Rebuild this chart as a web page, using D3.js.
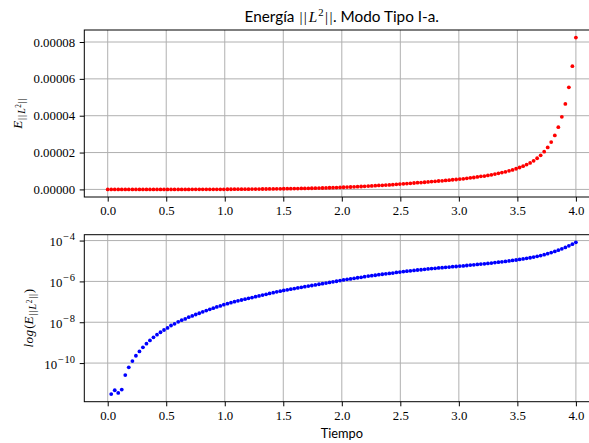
<!DOCTYPE html>
<html>
<head>
<meta charset="utf-8">
<script src="https://cdn.jsdelivr.net/npm/d3@7"></script>
<style>
  html, body { margin: 0; padding: 0; background: #ffffff; }
  svg { display: block; }
</style>
</head>
<body>
<svg id="chart" width="589" height="443"></svg>
<script>
// Time samples of the simulation
const tiempo = [
  0.000, 0.030, 0.060, 0.090, 0.120, 0.150, 0.180, 0.211, 0.241, 0.271,
  0.301, 0.331, 0.361, 0.391, 0.421, 0.451, 0.481, 0.511, 0.541, 0.571,
  0.602, 0.632, 0.662, 0.692, 0.722, 0.752, 0.782, 0.812, 0.842, 0.872,
  0.902, 0.932, 0.962, 0.992, 1.023, 1.053, 1.083, 1.113, 1.143, 1.173,
  1.203, 1.233, 1.263, 1.293, 1.323, 1.353, 1.383, 1.414, 1.444, 1.474,
  1.504, 1.534, 1.564, 1.594, 1.624, 1.654, 1.684, 1.714, 1.744, 1.774,
  1.805, 1.835, 1.865, 1.895, 1.925, 1.955, 1.985, 2.015, 2.045, 2.075,
  2.105, 2.135, 2.165, 2.195, 2.226, 2.256, 2.286, 2.316, 2.346, 2.376,
  2.406, 2.436, 2.466, 2.496, 2.526, 2.556, 2.586, 2.617, 2.647, 2.677,
  2.707, 2.737, 2.767, 2.797, 2.827, 2.857, 2.887, 2.917, 2.947, 2.977,
  3.008, 3.038, 3.068, 3.098, 3.128, 3.158, 3.188, 3.218, 3.248, 3.278,
  3.308, 3.338, 3.368, 3.398, 3.429, 3.459, 3.489, 3.519, 3.549, 3.579,
  3.609, 3.639, 3.669, 3.699, 3.729, 3.759, 3.789, 3.820, 3.850, 3.880,
  3.910, 3.940, 3.970, 4.000
];

// L2-norm energy at each time sample
const energia = [
  0,
  3.02e-12, 4.68e-12, 3.47e-12, 5.01e-12, 2.57e-11, 6.17e-11, 1.26e-10, 2.29e-10, 3.72e-10, 5.89e-10,
  8.91e-10, 1.29e-9, 1.82e-9, 2.45e-9, 3.24e-9, 4.17e-9, 5.25e-9, 6.92e-9, 8.32e-9, 1.05e-8,
  1.26e-8, 1.45e-8, 1.78e-8, 2.04e-8, 2.40e-8, 2.75e-8, 3.24e-8, 3.72e-8, 4.27e-8, 4.90e-8,
  5.62e-8, 6.31e-8, 7.24e-8, 8.13e-8, 9.12e-8, 1.02e-7, 1.12e-7, 1.23e-7, 1.35e-7, 1.48e-7,
  1.62e-7, 1.78e-7, 1.95e-7, 2.14e-7, 2.34e-7, 2.57e-7, 2.82e-7, 3.09e-7, 3.31e-7, 3.63e-7,
  3.89e-7, 4.17e-7, 4.47e-7, 4.79e-7, 5.13e-7, 5.50e-7, 5.89e-7, 6.31e-7, 6.76e-7, 7.24e-7,
  7.76e-7, 8.32e-7, 8.91e-7, 9.55e-7, 1.02e-6, 1.10e-6, 1.18e-6, 1.26e-6, 1.32e-6, 1.41e-6,
  1.51e-6, 1.58e-6, 1.70e-6, 1.82e-6, 1.91e-6, 2.00e-6, 2.14e-6, 2.24e-6, 2.34e-6, 2.45e-6,
  2.57e-6, 2.75e-6, 2.88e-6, 3.02e-6, 3.16e-6, 3.31e-6, 3.47e-6, 3.63e-6, 3.72e-6, 3.89e-6,
  4.07e-6, 4.27e-6, 4.37e-6, 4.57e-6, 4.68e-6, 4.90e-6, 5.01e-6, 5.25e-6, 5.37e-6, 5.62e-6,
  5.75e-6, 6.03e-6, 6.31e-6, 6.46e-6, 6.76e-6, 7.08e-6, 7.24e-6, 7.59e-6, 7.94e-6, 8.32e-6,
  8.71e-6, 9.12e-6, 9.55e-6, 1.01e-5, 1.06e-5, 1.12e-5, 1.19e-5, 1.26e-5, 1.35e-5, 1.44e-5,
  1.55e-5, 1.69e-5, 1.85e-5, 2.05e-5, 2.28e-5, 2.57e-5, 2.93e-5, 3.38e-5, 3.94e-5, 4.64e-5,
  5.54e-5, 6.69e-5, 8.24e-5
];

// Tick positions
const xTicks = [0, 0.5, 1.0, 1.5, 2.0, 2.5, 3.0, 3.5, 4.0];
const linTicks = [0, 0.00002, 0.00004, 0.00006, 0.00008];
const logExponents = [-4, -6, -8, -10];

// Texts
const titleSans1 = "Energía ";
const titleSans2 = ". Modo Tipo I-a.";
const xLabel = "Tiempo";

// Layout
const SERIF = "'Liberation Serif', 'DejaVu Serif', serif";
const SANS = "Lato, 'Open Sans', 'DejaVu Sans', sans-serif";
const GRID = "#b0b0b0";
const LW = 1.0;
const TICK_FS = 12.8;

const axLeft = 84.3, axRight = 599.3;
const topPanel = { y0: 30, y1: 197 };
const botPanel = { y0: 234.7, y1: 401.7 };

const svg = d3.select("#chart");
svg.append("rect").attr("width", 589).attr("height", 443).attr("fill", "#fff");

const points = tiempo.map((t, i) => ({ t, e: energia[i] }));

// x scale with 5% margins
const [tMin, tMax] = d3.extent(tiempo);
const tPad = 0.05 * (tMax - tMin);
const x = d3.scaleLinear().domain([tMin - tPad, tMax + tPad]).range([axLeft, axRight]);

// Linear y scale (top panel)
const [eMin, eMax] = d3.extent(energia);
const ePad = 0.05 * (eMax - eMin);
const yLin = d3.scaleLinear().domain([eMin - ePad, eMax + ePad]).range([topPanel.y1, topPanel.y0]);

// Log y scale (bottom panel), padded 5% in decades
const positive = points.filter(d => d.e > 0);
const [lMin, lMax] = d3.extent(positive, d => Math.log10(d.e));
const lPad = 0.05 * (lMax - lMin);
const yLog = d3.scaleLog()
  .domain([Math.pow(10, lMin - lPad), Math.pow(10, lMax + lPad)])
  .range([botPanel.y1, botPanel.y0]);

function styleAxis(g) {
  g.select(".domain").remove();
  g.selectAll(".tick line").attr("stroke", "#000").attr("stroke-width", LW);
  g.selectAll(".tick text")
    .attr("font-family", SERIF)
    .attr("font-size", TICK_FS)
    .attr("fill", "#000");
}

function drawPanel(panel, yScale, yTickValues, clipId) {
  const g = svg.append("g");

  // grid
  g.append("g").selectAll("line").data(xTicks).join("line")
    .attr("x1", d => x(d)).attr("x2", d => x(d))
    .attr("y1", panel.y0).attr("y2", panel.y1)
    .attr("stroke", GRID).attr("stroke-width", LW);
  g.append("g").selectAll("line").data(yTickValues).join("line")
    .attr("x1", axLeft).attr("x2", axRight)
    .attr("y1", d => yScale(d)).attr("y2", d => yScale(d))
    .attr("stroke", GRID).attr("stroke-width", LW);

  // x axis
  const xa = g.append("g")
    .attr("transform", `translate(0,${panel.y1})`)
    .call(d3.axisBottom(x).tickValues(xTicks).tickFormat(d3.format(".1f"))
      .tickSize(4.6).tickPadding(4.2));
  styleAxis(xa);

  // y axis
  const ya = g.append("g")
    .attr("transform", `translate(${axLeft},0)`)
    .call(d3.axisLeft(yScale).tickValues(yTickValues).tickSize(4.6).tickPadding(4.6));
  styleAxis(ya);

  // clip region of the plotting area
  svg.append("clipPath").attr("id", clipId).append("rect")
    .attr("x", axLeft).attr("y", panel.y0)
    .attr("width", axRight - axLeft).attr("height", panel.y1 - panel.y0);

  return { g, xa, ya };
}

// ---------- top panel: linear energy ----------
const topP = drawPanel(topPanel, yLin, linTicks, "clipTop");
topP.ya.selectAll(".tick text").text(d => d3.format(".5f")(d));

svg.append("g").attr("clip-path", "url(#clipTop)")
  .selectAll("circle").data(points).join("circle")
  .attr("cx", d => x(d.t)).attr("cy", d => yLin(d.e))
  .attr("r", 1.9).attr("fill", "#ff0000");

svg.append("rect")
  .attr("x", axLeft).attr("y", topPanel.y0)
  .attr("width", axRight - axLeft).attr("height", topPanel.y1 - topPanel.y0)
  .attr("fill", "none").attr("stroke", "#000").attr("stroke-width", LW);

// ---------- bottom panel: log energy ----------
const logTicks = logExponents.map(p => Math.pow(10, p));
const botP = drawPanel(botPanel, yLog, logTicks, "clipBot");
botP.ya.selectAll(".tick text").each(function (d) {
  const t = d3.select(this).text(null).attr("dy", null).attr("y", 5);
  t.append("tspan").text("10");
  t.append("tspan").attr("font-size", 10.5).attr("dx", 0.8).attr("dy", -5.8).text("\u2212");
  t.append("tspan").attr("font-size", 10.5).attr("dx", 0.8)
    .text(Math.abs(Math.round(Math.log10(d))));
});

svg.append("g").attr("clip-path", "url(#clipBot)")
  .selectAll("circle").data(positive).join("circle")
  .attr("cx", d => x(d.t)).attr("cy", d => yLog(d.e))
  .attr("r", 1.9).attr("fill", "#0000ff");

svg.append("rect")
  .attr("x", axLeft).attr("y", botPanel.y0)
  .attr("width", axRight - axLeft).attr("height", botPanel.y1 - botPanel.y0)
  .attr("fill", "none").attr("stroke", "#000").attr("stroke-width", LW);

// ---------- title ----------
const cx = (axLeft + axRight) / 2;
const title = svg.append("text")
  .attr("x", cx).attr("y", 22).attr("text-anchor", "middle")
  .attr("font-size", 15.3).attr("fill", "#000");
title.append("tspan").attr("font-family", SANS).text(titleSans1);
title.append("tspan").attr("font-family", SERIF).attr("dx", 1).text("|");
title.append("tspan").attr("font-family", SERIF).attr("dx", 1.4).text("|");
title.append("tspan").attr("font-family", SERIF).attr("font-style", "italic").attr("dx", 1.8).text("L");
title.append("tspan").attr("font-family", SERIF).attr("font-size", 10.7).attr("dx", 1).attr("dy", -6.5).text("2");
title.append("tspan").attr("font-family", SERIF).attr("dx", 1.4).attr("dy", 6.5).text("|");
title.append("tspan").attr("font-family", SERIF).attr("dx", 1.4).text("|");
title.append("tspan").attr("font-family", SANS).attr("dx", 0.6).text(titleSans2);

// ---------- axis labels ----------
svg.append("text")
  .attr("x", cx).attr("y", 437.5).attr("text-anchor", "middle")
  .attr("font-family", SANS).attr("font-size", 12.8).attr("fill", "#000")
  .text(xLabel);

function energyLabel(sel) {
  const s = 10;
  sel.append("tspan").attr("font-style", "italic").attr("font-size", 13.2).text("E");
  sel.append("tspan").attr("font-size", s).attr("dx", 0.8).attr("dy", 2.8).text("|");
  sel.append("tspan").attr("font-size", s).attr("dx", 0.9).text("|");
  sel.append("tspan").attr("font-size", s).attr("dx", 1.1).attr("font-style", "italic").text("L");
  sel.append("tspan").attr("font-size", 7.2).attr("dx", 0.6).attr("dy", -3.6).text("2");
  sel.append("tspan").attr("font-size", s).attr("dx", 0.9).attr("dy", 3.6).text("|");
  sel.append("tspan").attr("font-size", s).attr("dx", 0.9).text("|");
}

const yl1 = svg.append("text")
  .attr("transform", `translate(22,${(topPanel.y0 + topPanel.y1) / 2}) rotate(-90)`)
  .attr("text-anchor", "middle").attr("font-family", SERIF)
  .attr("font-size", 13.2).attr("fill", "#000");
energyLabel(yl1);

const yl2 = svg.append("text")
  .attr("transform", `translate(33,${(botPanel.y0 + botPanel.y1) / 2}) rotate(-90)`)
  .attr("text-anchor", "middle").attr("font-family", SERIF)
  .attr("font-size", 13.2).attr("fill", "#000");
yl2.append("tspan").attr("font-style", "italic").attr("letter-spacing", 0.4).text("log");
yl2.append("tspan").attr("dx", 0.6).text("(");
energyLabel(yl2);
yl2.append("tspan").attr("dx", 0.6).attr("dy", -2.8).attr("font-size", 13.2).text(")");
</script>
</body>
</html>
